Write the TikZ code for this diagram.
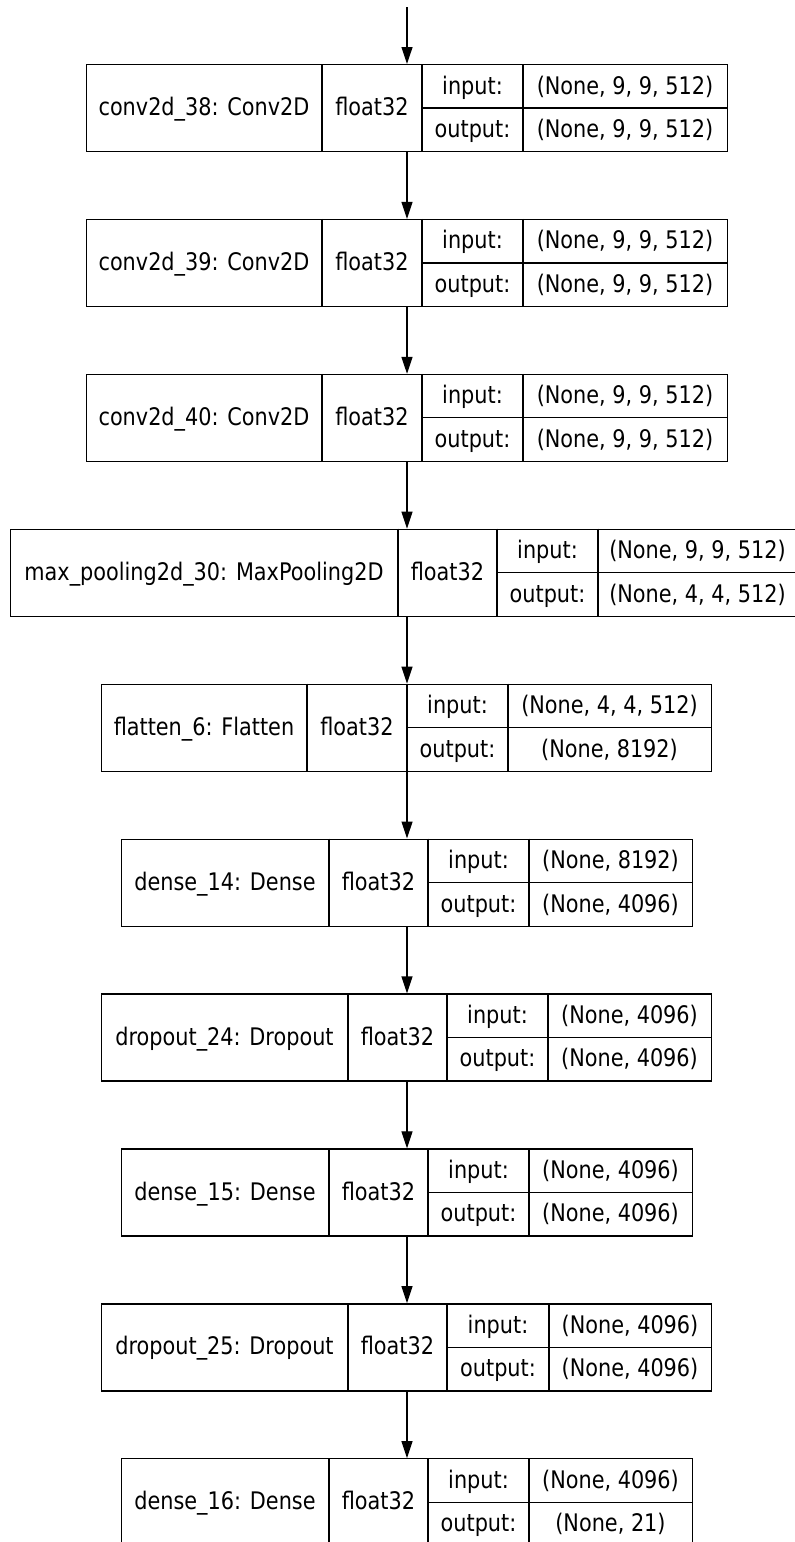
\documentclass[tikz,border=0pt]{standalone}
\usepackage{fontspec}
\setmainfont{DejaVu Sans}[FakeStretch=0.86]
\usetikzlibrary{arrows.meta}
\tikzset{
  recbox/.style={draw=black, line width=1.3pt, rectangle, inner sep=0pt, minimum height=87pt},
  rule/.style={draw=black, line width=1.2pt},
  txt/.style={inner sep=0pt, anchor=base, text=black, font=\fontsize{24.2}{28}\selectfont},
  arr/.style={draw=black, line width=1.2pt, -{Triangle[length=17pt, width=11pt]}}
}
\newcommand\drawlayer[9]{%
  \pgfmathsetmacro\LYtop{64+154.9*(#1-1)}%
  \pgfmathsetmacro\LYbot{\LYtop+87}%
  \pgfmathsetmacro\LYmid{\LYtop+44}%
  \pgfmathsetmacro\LWidth{#6-#2}%
  \node[recbox, minimum width=\LWidth pt, anchor=north west] (L#1) at (#2,\LYtop) {};
  \draw[rule] (#3,\LYtop) -- (#3,\LYbot) (#4,\LYtop) -- (#4,\LYbot) (#5,\LYtop) -- (#5,\LYbot) (#4,\LYmid) -- (#6,\LYmid);
  \node[txt] (L#1name) at ({(#2+#3)/2},{\LYtop+43.5+8.2}) {#7};
  \node[txt] (L#1dt) at ({(#3+#4)/2},{\LYtop+43.5+8.2}) {float32};
  \node[txt] (L#1inl) at ({(#4+#5)/2},{(\LYtop+\LYmid)/2+8}) {input:};
  \node[txt] (L#1inv) at ({(#5+#6)/2},{(\LYtop+\LYmid)/2+8}) {#8};
  \node[txt] (L#1outl) at ({(#4+#5)/2},{(\LYmid+\LYbot)/2+8}) {output:};
  \node[txt] (L#1outv) at ({(#5+#6)/2},{(\LYmid+\LYbot)/2+8}) {#9};
}
\begin{document}
\begin{tikzpicture}[x=1pt, y=-1pt]
  \useasboundingbox (0,0) rectangle (795,1542);
  \fill[white] (0,0) rectangle (795,1542);
  \drawlayer{1}{86}{322}{422}{523}{727}{conv2d\_38: Conv2D}{(None, 9, 9, 512)}{(None, 9, 9, 512)}
  \drawlayer{2}{86}{322}{422}{523}{727}{conv2d\_39: Conv2D}{(None, 9, 9, 512)}{(None, 9, 9, 512)}
  \drawlayer{3}{86}{322}{422}{523}{727}{conv2d\_40: Conv2D}{(None, 9, 9, 512)}{(None, 9, 9, 512)}
  \drawlayer{4}{10}{398}{497}{598}{797}{max\_pooling2d\_30: MaxPooling2D}{(None, 9, 9, 512)}{(None, 4, 4, 512)}
  \drawlayer{5}{101}{307}{407}{508}{711}{flatten\_6: Flatten}{(None, 4, 4, 512)}{(None, 8192)}
  \drawlayer{6}{121}{329}{428}{529}{692}{dense\_14: Dense}{(None, 8192)}{(None, 4096)}
  \drawlayer{7}{101}{348}{447}{548}{711}{dropout\_24: Dropout}{(None, 4096)}{(None, 4096)}
  \drawlayer{8}{121}{329}{428}{529}{692}{dense\_15: Dense}{(None, 4096)}{(None, 4096)}
  \drawlayer{9}{101}{348}{447}{549}{711}{dropout\_25: Dropout}{(None, 4096)}{(None, 4096)}
  \drawlayer{10}{121}{329}{428}{529}{692}{dense\_16: Dense}{(None, 4096)}{(None, 21)}
  \coordinate (start) at (407,7);
  \draw[arr] (start) -- (L1.north -| start);
  \foreach \a/\b in {1/2,2/3,3/4,4/5,5/6,6/7,7/8,8/9,9/10}{
    \draw[arr] (L\a.south -| start) -- (L\b.north -| start);
  }
\end{tikzpicture}
\end{document}
